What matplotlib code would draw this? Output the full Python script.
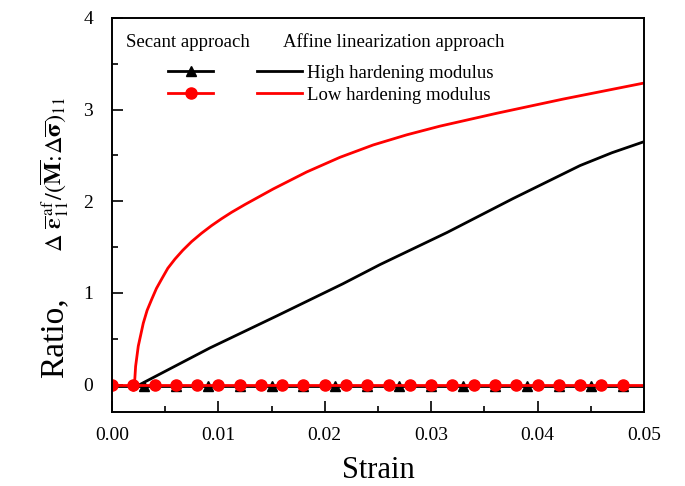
import matplotlib
matplotlib.use("Agg")
import matplotlib.pyplot as plt
from matplotlib.ticker import MultipleLocator, FormatStrFormatter

plt.rcParams["font.family"] = ["Liberation Serif", "DejaVu Serif"]
plt.rcParams["mathtext.fontset"] = "stix"

# secant approach: ratio stays at zero (markers at output steps)
sec_high_strain = [0.0, 0.003, 0.006, 0.009, 0.012, 0.015, 0.018, 0.021, 0.024,
                   0.027, 0.030, 0.033, 0.036, 0.039, 0.042, 0.045, 0.048, 0.050]
sec_high_ratio = [-0.015] * len(sec_high_strain)
sec_low_strain = [0.0, 0.002, 0.004, 0.006, 0.008, 0.010, 0.012, 0.014, 0.016,
                  0.018, 0.020, 0.022, 0.024, 0.026, 0.028, 0.030, 0.032, 0.034,
                  0.036, 0.038, 0.040, 0.042, 0.044, 0.046, 0.048, 0.050]
sec_low_ratio = [0.0] * len(sec_low_strain)

# affine linearization approach
aff_high_strain = [0.0026, 0.0092, 0.0155, 0.0217, 0.0252, 0.0315, 0.0377,
                   0.0440, 0.0470, 0.0500]
aff_high_ratio = [0.0, 0.40, 0.75, 1.10, 1.31, 1.66, 2.03, 2.39, 2.53, 2.65]

aff_low_strain = [0.00200, 0.00210, 0.00222, 0.00247, 0.00294, 0.00330, 0.00373,
                  0.00418, 0.00466, 0.00525, 0.00592, 0.00665, 0.00748, 0.00840,
                  0.00936, 0.01030, 0.01124, 0.01250, 0.01516, 0.01830, 0.02143,
                  0.02456, 0.02770, 0.03083, 0.03615, 0.04240, 0.05000]
aff_low_ratio = [-0.06, -0.02, 0.20, 0.42, 0.67, 0.81, 0.93, 1.05, 1.15, 1.27,
                 1.37, 1.465, 1.56, 1.65, 1.735, 1.81, 1.88, 1.965, 2.135, 2.32,
                 2.48, 2.615, 2.725, 2.82, 2.96, 3.115, 3.29]

fig = plt.figure(figsize=(6.85, 4.86), dpi=100)
ax = fig.add_axes([0.1635, 0.152, 0.7765, 0.811])

lw = 2.0
ax.plot(aff_high_strain, aff_high_ratio, color="black", lw=lw)
ax.plot(aff_low_strain, aff_low_ratio, color="red", lw=lw)
ax.plot(sec_high_strain, sec_high_ratio, color="black", lw=lw,
        marker="^", ms=7, markevery=slice(1, -1))
ax.plot(sec_low_strain, sec_low_ratio, color="red", lw=lw,
        marker="o", ms=8, markevery=slice(0, -1))

ax.set_xlim(0, 0.05)
ax.set_ylim(-0.3, 4)
ax.xaxis.set_major_locator(MultipleLocator(0.01))
ax.xaxis.set_minor_locator(MultipleLocator(0.005))
ax.xaxis.set_major_formatter(FormatStrFormatter("%.2f"))
ax.yaxis.set_major_locator(MultipleLocator(1))
ax.yaxis.set_minor_locator(MultipleLocator(0.5))
ax.tick_params(which="both", direction="in", labelsize=14, width=1.2)
ax.tick_params(which="major", length=8)
ax.tick_params(which="minor", length=4)
ax.tick_params(axis="x", which="major", pad=10.5)
ax.tick_params(axis="y", which="major", pad=13.5)
for s in ax.spines.values():
    s.set_linewidth(1.4)

ax.set_xlabel("Strain", fontsize=22, labelpad=9)

# y label, drawn in two parts (plain word + math expression)
fig.text(62 / 685, 1 - 378 / 486, "Ratio,", fontsize=24, rotation=90,
         rotation_mode="anchor", ha="left", va="baseline")
fig.text(62 / 685, 1 - 252 / 486,
         r"$\Delta\ \overline{\mathbf{\varepsilon}}^{\,\mathrm{af}}_{11}"
         r"/(\overline{\mathbf{M}}\!:\!\Delta\overline{\mathbf{\sigma}})_{11}$",
         fontsize=17.5, rotation=90, rotation_mode="anchor", ha="left", va="baseline")

# legend: two columns with headers
ax.text(0.027, 0.938, "Secant approach", transform=ax.transAxes,
        fontsize=13.5, va="center")
ax.text(0.322, 0.938, "Affine linearization approach", transform=ax.transAxes,
        fontsize=13.5, va="center")
h1, = ax.plot([], [], color="black", lw=lw, marker="^", ms=7)
h2, = ax.plot([], [], color="red", lw=lw, marker="o", ms=8)
h3, = ax.plot([], [], color="black", lw=lw)
h4, = ax.plot([], [], color="red", lw=lw)
ax.legend([h1, h2, h3, h4], ["", "", "High hardening modulus", "Low hardening modulus"],
          ncol=2, frameon=False, fontsize=13.5, loc="upper left",
          bbox_to_anchor=(0.092, 0.90), handlelength=2.4, handletextpad=0.27,
          columnspacing=2.05, labelspacing=0.25, borderaxespad=0)

fig.savefig("out.png", dpi=100)
